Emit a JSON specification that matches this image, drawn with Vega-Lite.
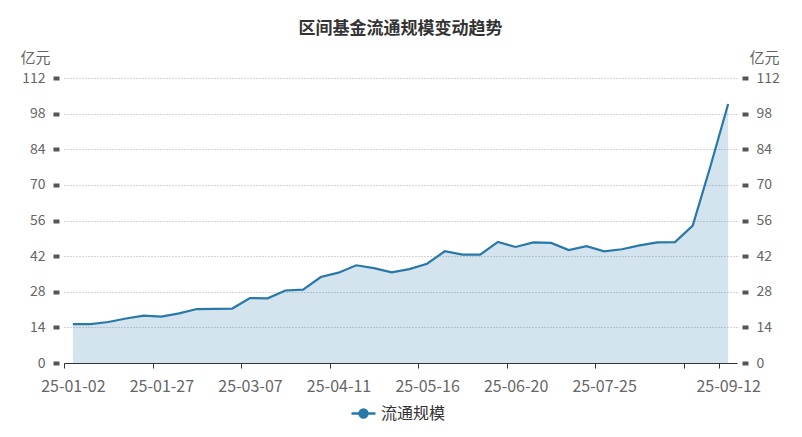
{
  "$schema": "https://vega.github.io/schema/vega-lite/v6.json",
  "width": 673,
  "height": 285,
  "autosize": {"type": "none"},
  "padding": {"left": 64, "top": 78, "right": 65, "bottom": 74},
  "background": "white",
  "title": {"text": "区间基金流通规模变动趋势", "fontSize": 17, "fontWeight": "bold", "color": "#333333", "font": "Noto Sans CJK SC", "anchor": "middle", "offset": 12},
  "data": {"values": [
    {"date": "25-01-02", "value": 15.3, "series": "流通规模"},
    {"date": "25-01-03", "value": 15.3, "series": "流通规模"},
    {"date": "25-01-10", "value": 16.1, "series": "流通规模"},
    {"date": "25-01-17", "value": 17.5, "series": "流通规模"},
    {"date": "25-01-24", "value": 18.6, "series": "流通规模"},
    {"date": "25-01-27", "value": 18.2, "series": "流通规模"},
    {"date": "25-02-07", "value": 19.5, "series": "流通规模"},
    {"date": "25-02-14", "value": 21.2, "series": "流通规模"},
    {"date": "25-02-21", "value": 21.3, "series": "流通规模"},
    {"date": "25-02-28", "value": 21.4, "series": "流通规模"},
    {"date": "25-03-07", "value": 25.5, "series": "流通规模"},
    {"date": "25-03-14", "value": 25.4, "series": "流通规模"},
    {"date": "25-03-21", "value": 28.5, "series": "流通规模"},
    {"date": "25-03-28", "value": 28.8, "series": "流通规模"},
    {"date": "25-04-03", "value": 33.8, "series": "流通规模"},
    {"date": "25-04-11", "value": 35.5, "series": "流通规模"},
    {"date": "25-04-18", "value": 38.4, "series": "流通规模"},
    {"date": "25-04-25", "value": 37.3, "series": "流通规模"},
    {"date": "25-04-30", "value": 35.6, "series": "流通规模"},
    {"date": "25-05-09", "value": 36.9, "series": "流通规模"},
    {"date": "25-05-16", "value": 39.0, "series": "流通规模"},
    {"date": "25-05-23", "value": 43.9, "series": "流通规模"},
    {"date": "25-05-30", "value": 42.6, "series": "流通规模"},
    {"date": "25-06-06", "value": 42.6, "series": "流通规模"},
    {"date": "25-06-13", "value": 47.6, "series": "流通规模"},
    {"date": "25-06-20", "value": 45.6, "series": "流通规模"},
    {"date": "25-06-27", "value": 47.4, "series": "流通规模"},
    {"date": "25-07-04", "value": 47.2, "series": "流通规模"},
    {"date": "25-07-11", "value": 44.4, "series": "流通规模"},
    {"date": "25-07-18", "value": 45.9, "series": "流通规模"},
    {"date": "25-07-25", "value": 43.9, "series": "流通规模"},
    {"date": "25-08-01", "value": 44.7, "series": "流通规模"},
    {"date": "25-08-08", "value": 46.2, "series": "流通规模"},
    {"date": "25-08-15", "value": 47.4, "series": "流通规模"},
    {"date": "25-08-22", "value": 47.5, "series": "流通规模"},
    {"date": "25-08-29", "value": 54.0, "series": "流通规模"},
    {"date": "25-09-05", "value": 77.3, "series": "流通规模"},
    {"date": "25-09-12", "value": 101.8, "series": "流通规模"}
  ]},
  "encoding": {
    "x": {
      "field": "date",
      "type": "ordinal",
      "scale": {"type": "point", "padding": 0.5},
      "axis": {
        "title": null,
        "values": ["25-01-02", "25-01-27", "25-03-07", "25-04-11", "25-05-16", "25-06-20", "25-07-25", "25-08-29", "25-09-12"],
        "labelExpr": "datum.value == '25-08-29' ? '' : datum.value",
        "tickOffset": -8.86,
        "labelOffset": 8.86,
        "labelAngle": 0,
        "domainColor": "#333333",
        "tickColor": "#333333",
        "tickSize": 5,
        "labelPadding": 10,
        "labelFontSize": 16,
        "labelColor": "#666666",
        "labelFont": "Noto Sans CJK SC",
        "grid": false
      }
    }
  },
  "layer": [
    {
      "mark": {"type": "area", "color": "#2878a8", "fillOpacity": 0.2},
      "encoding": {
        "y": {
          "field": "value",
          "type": "quantitative",
          "scale": {"domain": [0, 112]},
          "axis": {
            "orient": "left",
            "values": [0, 14, 28, 42, 56, 70, 84, 98, 112],
            "title": "亿元",
            "titleAngle": 0,
            "titleX": -24,
            "titleY": -21,
            "titleAlign": "center",
            "titleBaseline": "middle",
            "titleFontSize": 15,
            "titleFontWeight": "normal",
            "titleColor": "#666666",
            "titleFont": "Noto Sans CJK SC",
            "offset": 5,
            "domain": false,
            "tickSize": 6,
            "tickWidth": 4,
            "tickColor": "#555555",
            "labelPadding": 8,
            "labelFontSize": 14,
            "labelColor": "#666666",
            "labelFont": "Noto Sans CJK SC",
            "grid": true,
            "gridColor": "#aaaaaa",
            "gridDash": [1, 2],
            "gridWidth": 1
          }
        }
      }
    },
    {
      "mark": {"type": "line", "strokeWidth": 2.2},
      "encoding": {
        "y": {
          "field": "value",
          "type": "quantitative",
          "scale": {"domain": [0, 112]},
          "axis": {
            "orient": "right",
            "values": [0, 14, 28, 42, 56, 70, 84, 98, 112],
            "title": "亿元",
            "titleAngle": 0,
            "titleX": 22,
            "titleY": -21,
            "titleAlign": "center",
            "titleBaseline": "middle",
            "titleFontSize": 15,
            "titleFontWeight": "normal",
            "titleColor": "#666666",
            "titleFont": "Noto Sans CJK SC",
            "offset": 5,
            "domain": false,
            "tickSize": 6,
            "tickWidth": 4,
            "tickColor": "#555555",
            "labelPadding": 8,
            "labelFontSize": 14,
            "labelColor": "#666666",
            "labelFont": "Noto Sans CJK SC",
            "grid": false
          }
        },
        "color": {
          "field": "series",
          "type": "nominal",
          "scale": {"range": ["#2878a8"]},
          "legend": {
            "title": null,
            "orient": "none",
            "legendX": 286,
            "legendY": 322,
            "symbolType": "M-1,0H1M-0.33,0A0.33,0.33,0,1,1,0.33,0A0.33,0.33,0,1,1,-0.33,0Z",
            "symbolSize": 576,
            "symbolStrokeWidth": 2.5,
            "labelFontSize": 16,
            "labelColor": "#333333",
            "labelFont": "Noto Sans CJK SC",
            "labelOffset": 4,
            "encode": {"symbols": {"update": {"fill": {"value": "#2878a8"}, "stroke": {"value": "#2878a8"}, "fillOpacity": {"value": 1}}}}
          }
        }
      }
    }
  ],
  "resolve": {"scale": {"y": "independent"}},
  "config": {"view": {"stroke": null}, "font": "Noto Sans CJK SC"}
}
